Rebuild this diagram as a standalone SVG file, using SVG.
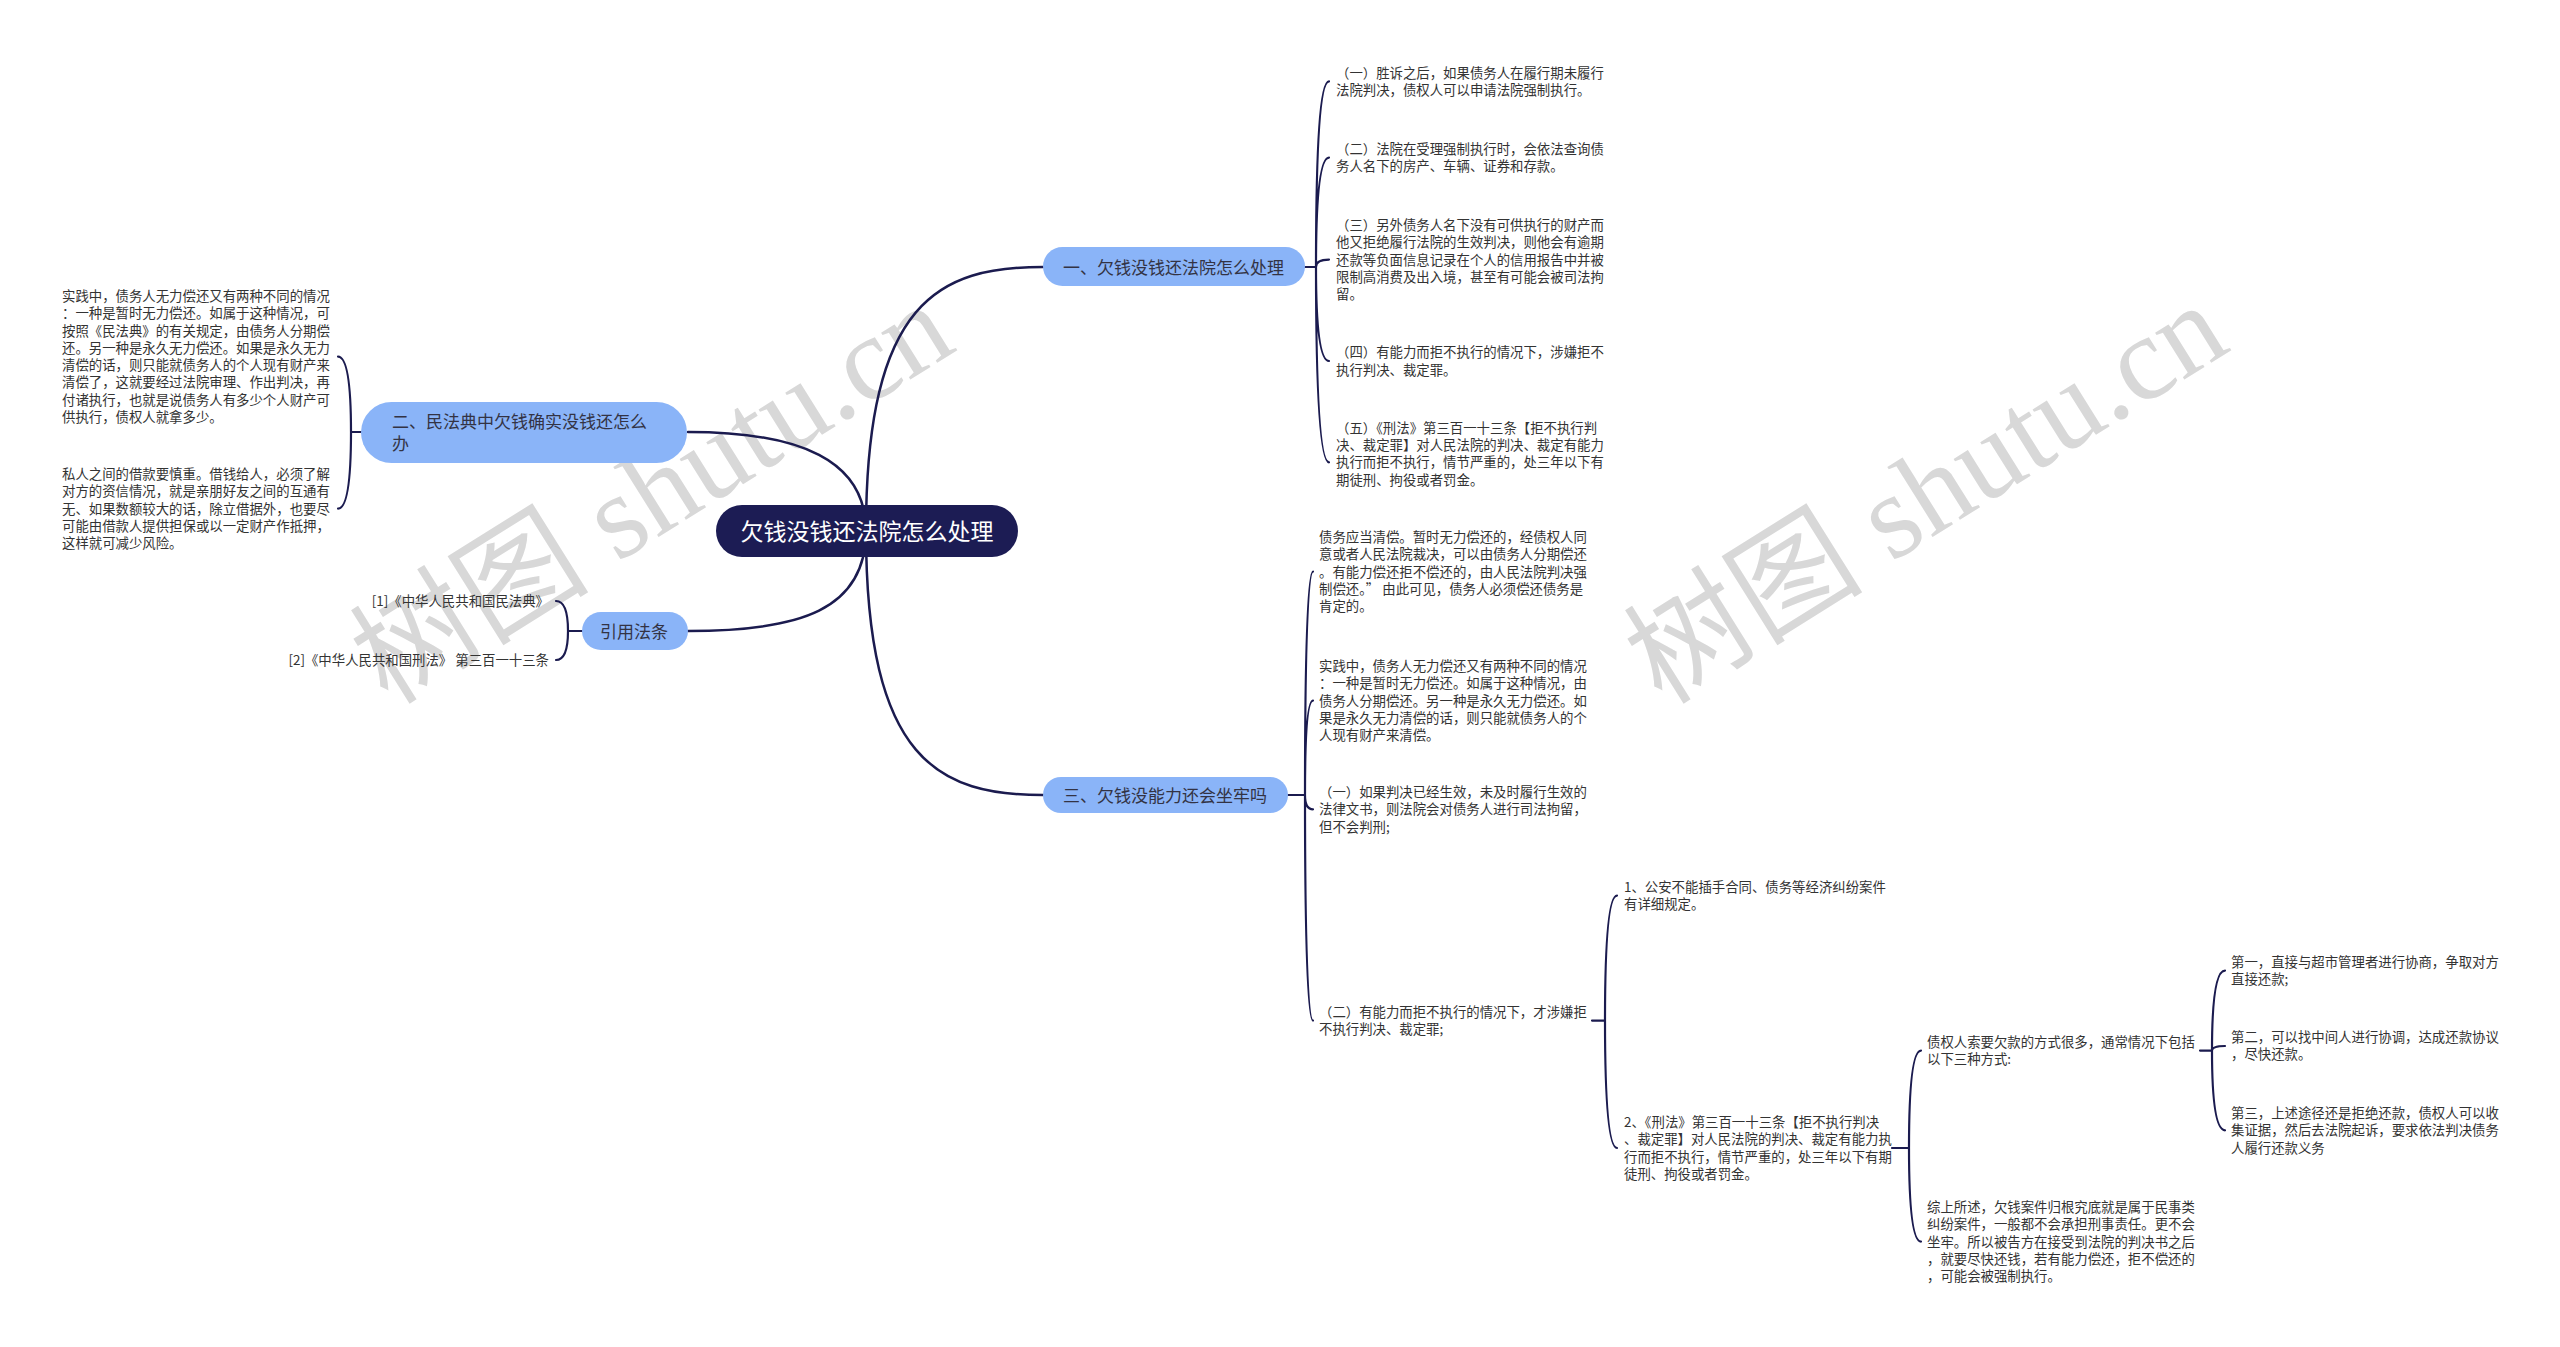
<svg xmlns="http://www.w3.org/2000/svg" width="2560" height="1347" viewBox="0 0 2560 1347">
<style>
.bg{fill:#ffffff}
.wm{font-family:"Liberation Serif","Noto Sans CJK SC",serif;font-size:120px;fill:#d8d8d8}
.conn{fill:none;stroke:#1b1b4f;stroke-width:2.5;stroke-linecap:round}
.br{fill:none;stroke:#1b1b4f;stroke-width:2.2;stroke-linecap:round}
.root rect{fill:#1c1c54}
.root text{font-family:"Noto Sans CJK SC","Noto Sans",sans-serif;font-size:23px;fill:#ffffff;text-anchor:middle}
.pill rect{fill:#8ab4f8}
.pill text{font-family:"Noto Sans CJK SC","Noto Sans",sans-serif;font-size:17px;fill:#333344}
.leaf text{font-family:"Noto Sans CJK SC","Noto Sans",sans-serif;font-size:13.4px;fill:#333333}
</style>
<rect class="bg" x="0" y="0" width="2560" height="1347"/>
<g id="watermarks">
<text class="wm" transform="translate(388,706) rotate(-32)">树图 shutu.cn</text>
<text class="wm" transform="translate(1662,706) rotate(-32)">树图 shutu.cn</text>
</g>
<g id="connectors">
<path class="conn" d="M866,531 C866,300 940,267 1043,267"/>
<path class="conn" d="M866,531 C866,460 800,432 688,432"/>
<path class="conn" d="M866,531 C866,610 800,631 688,631"/>
<path class="conn" d="M866,531 C866,762 940,795 1043,795"/>
<path class="br" d="M1305,267 H1316 M1316,267 Q1316,81.4 1329,81.4 M1316,267 Q1316,157.6 1329,157.6 M1316,267 Q1316,259.6 1329,259.6 M1316,267 Q1316,361 1329,361 M1316,267 Q1316,462.3 1329,462.3"/>
<path class="br" d="M361,432 H351 M351,432 Q351,356.6 338,356.6 M351,432 Q351,508.6 338,508.6"/>
<path class="br" d="M582,631 H568 M568,631 Q568,601 556,601 M568,631 Q568,660 556,660"/>
<path class="br" d="M1288,795 H1305 M1305,795 Q1305,571.6 1313,571.6 M1305,795 Q1305,700.6 1313,700.6 M1305,795 Q1305,809.3 1313,809.3 M1305,795 Q1305,1020.6 1313,1020.6"/>
<path class="br" d="M1592,1020.6 H1605 M1605,1020.6 Q1605,895.6 1617,895.6 M1605,1020.6 Q1605,1148 1617,1148"/>
<path class="br" d="M1892,1148 H1909 M1909,1148 Q1909,1050.6 1921,1050.6 M1909,1148 Q1909,1241.6 1921,1241.6"/>
<path class="br" d="M2200,1050.6 H2212 M2212,1050.6 Q2212,970.6 2225,970.6 M2212,1050.6 Q2212,1046 2225,1046 M2212,1050.6 Q2212,1130.3 2225,1130.3"/>
</g>
<g id="root" class="root">
<rect x="716" y="505" width="302" height="52" rx="26"/>
<text x="867" y="540">欠钱没钱还法院怎么处理</text>
</g>
<g id="b1" class="pill">
<rect x="1043" y="247" width="262" height="39" rx="19.5"/>
<text x="1063" y="273.5">一、欠钱没钱还法院怎么处理</text>
</g>
<g id="b2" class="pill">
<rect x="361" y="402" width="326" height="61" rx="30.5"/>
<text x="392" y="428"><tspan x="392" dy="0">二、民法典中欠钱确实没钱还怎么</tspan><tspan x="392" dy="22.3">办</tspan></text>
</g>
<g id="b3" class="pill">
<rect x="582" y="612" width="106" height="38" rx="19"/>
<text x="600" y="637.5">引用法条</text>
</g>
<g id="b4" class="pill">
<rect x="1043" y="777" width="245" height="36" rx="18"/>
<text x="1063" y="801.5">三、欠钱没能力还会坐牢吗</text>
</g>
<g id="b1-1" class="leaf"><text x="1336" y="77.6"><tspan x="1336" dy="0">（一）胜诉之后，如果债务人在履行期未履行</tspan><tspan x="1336" dy="17.3">法院判决，债权人可以申请法院强制执行。</tspan></text></g>
<g id="b1-2" class="leaf"><text x="1336" y="153.9"><tspan x="1336" dy="0">（二）法院在受理强制执行时，会依法查询债</tspan><tspan x="1336" dy="17.3">务人名下的房产、车辆、证券和存款。</tspan></text></g>
<g id="b1-3" class="leaf"><text x="1336" y="229.9"><tspan x="1336" dy="0">（三）另外债务人名下没有可供执行的财产而</tspan><tspan x="1336" dy="17.3">他又拒绝履行法院的生效判决，则他会有逾期</tspan><tspan x="1336" dy="17.3">还款等负面信息记录在个人的信用报告中并被</tspan><tspan x="1336" dy="17.3">限制高消费及出入境，甚至有可能会被司法拘</tspan><tspan x="1336" dy="17.3">留。</tspan></text></g>
<g id="b1-4" class="leaf"><text x="1336" y="357.2"><tspan x="1336" dy="0">（四）有能力而拒不执行的情况下，涉嫌拒不</tspan><tspan x="1336" dy="17.3">执行判决、裁定罪。</tspan></text></g>
<g id="b1-5" class="leaf"><text x="1336" y="432.6"><tspan x="1336" dy="0">（五）《刑法》第三百一十三条【拒不执行判</tspan><tspan x="1336" dy="17.3">决、裁定罪】对人民法院的判决、裁定有能力</tspan><tspan x="1336" dy="17.3">执行而拒不执行，情节严重的，处三年以下有</tspan><tspan x="1336" dy="17.3">期徒刑、拘役或者罚金。</tspan></text></g>
<g id="b2-1" class="leaf"><text x="62" y="300.9"><tspan x="62" dy="0">实践中，债务人无力偿还又有两种不同的情况</tspan><tspan x="62" dy="17.3">：一种是暂时无力偿还。如属于这种情况，可</tspan><tspan x="62" dy="17.3">按照《民法典》的有关规定，由债务人分期偿</tspan><tspan x="62" dy="17.3">还。另一种是永久无力偿还。如果是永久无力</tspan><tspan x="62" dy="17.3">清偿的话，则只能就债务人的个人现有财产来</tspan><tspan x="62" dy="17.3">清偿了，这就要经过法院审理、作出判决，再</tspan><tspan x="62" dy="17.3">付诸执行，也就是说债务人有多少个人财产可</tspan><tspan x="62" dy="17.3">供执行，债权人就拿多少。</tspan></text></g>
<g id="b2-2" class="leaf"><text x="62" y="478.9"><tspan x="62" dy="0">私人之间的借款要慎重。借钱给人，必须了解</tspan><tspan x="62" dy="17.3">对方的资信情况，就是亲朋好友之间的互通有</tspan><tspan x="62" dy="17.3">无、如果数额较大的话，除立借据外，也要尽</tspan><tspan x="62" dy="17.3">可能由借款人提供担保或以一定财产作抵押，</tspan><tspan x="62" dy="17.3">这样就可减少风险。</tspan></text></g>
<g id="b3-1" class="leaf"><text x="549" y="605.9" text-anchor="end">[1]《中华人民共和国民法典》</text></g>
<g id="b3-2" class="leaf"><text x="549" y="664.9" text-anchor="end">[2]《中华人民共和国刑法》 第三百一十三条</text></g>
<g id="b4-1" class="leaf"><text x="1319" y="541.9"><tspan x="1319" dy="0">债务应当清偿。暂时无力偿还的，经债权人同</tspan><tspan x="1319" dy="17.3">意或者人民法院裁决，可以由债务人分期偿还</tspan><tspan x="1319" dy="17.3">。有能力偿还拒不偿还的，由人民法院判决强</tspan><tspan x="1319" dy="17.3">制偿还。” 由此可见，债务人必须偿还债务是</tspan><tspan x="1319" dy="17.3">肯定的。</tspan></text></g>
<g id="b4-2" class="leaf"><text x="1319" y="670.9"><tspan x="1319" dy="0">实践中，债务人无力偿还又有两种不同的情况</tspan><tspan x="1319" dy="17.3">：一种是暂时无力偿还。如属于这种情况，由</tspan><tspan x="1319" dy="17.3">债务人分期偿还。另一种是永久无力偿还。如</tspan><tspan x="1319" dy="17.3">果是永久无力清偿的话，则只能就债务人的个</tspan><tspan x="1319" dy="17.3">人现有财产来清偿。</tspan></text></g>
<g id="b4-3" class="leaf"><text x="1319" y="796.9"><tspan x="1319" dy="0">（一）如果判决已经生效，未及时履行生效的</tspan><tspan x="1319" dy="17.3">法律文书，则法院会对债务人进行司法拘留，</tspan><tspan x="1319" dy="17.3">但不会判刑;</tspan></text></g>
<g id="b4-4" class="leaf"><text x="1319" y="1016.9"><tspan x="1319" dy="0">（二）有能力而拒不执行的情况下，才涉嫌拒</tspan><tspan x="1319" dy="17.3">不执行判决、裁定罪;</tspan></text></g>
<g id="b4-4-1" class="leaf"><text x="1624" y="891.9"><tspan x="1624" dy="0">1、公安不能插手合同、债务等经济纠纷案件</tspan><tspan x="1624" dy="17.3">有详细规定。</tspan></text></g>
<g id="b4-4-2" class="leaf"><text x="1624" y="1126.9"><tspan x="1624" dy="0">2、《刑法》第三百一十三条【拒不执行判决</tspan><tspan x="1624" dy="17.3">、裁定罪】对人民法院的判决、裁定有能力执</tspan><tspan x="1624" dy="17.3">行而拒不执行，情节严重的，处三年以下有期</tspan><tspan x="1624" dy="17.3">徒刑、拘役或者罚金。</tspan></text></g>
<g id="b4-4-2-1" class="leaf"><text x="1927" y="1046.9"><tspan x="1927" dy="0">债权人索要欠款的方式很多，通常情况下包括</tspan><tspan x="1927" dy="17.3">以下三种方式:</tspan></text></g>
<g id="b4-4-2-2" class="leaf"><text x="1927" y="1211.9"><tspan x="1927" dy="0">综上所述，欠钱案件归根究底就是属于民事类</tspan><tspan x="1927" dy="17.3">纠纷案件，一般都不会承担刑事责任。更不会</tspan><tspan x="1927" dy="17.3">坐牢。所以被告方在接受到法院的判决书之后</tspan><tspan x="1927" dy="17.3">，就要尽快还钱，若有能力偿还，拒不偿还的</tspan><tspan x="1927" dy="17.3">，可能会被强制执行。</tspan></text></g>
<g id="m1" class="leaf"><text x="2231" y="966.9"><tspan x="2231" dy="0">第一，直接与超市管理者进行协商，争取对方</tspan><tspan x="2231" dy="17.3">直接还款;</tspan></text></g>
<g id="m2" class="leaf"><text x="2231" y="1041.9"><tspan x="2231" dy="0">第二，可以找中间人进行协调，达成还款协议</tspan><tspan x="2231" dy="17.3">，尽快还款。</tspan></text></g>
<g id="m3" class="leaf"><text x="2231" y="1117.9"><tspan x="2231" dy="0">第三，上述途径还是拒绝还款，债权人可以收</tspan><tspan x="2231" dy="17.3">集证据，然后去法院起诉，要求依法判决债务</tspan><tspan x="2231" dy="17.3">人履行还款义务</tspan></text></g>
</svg>
